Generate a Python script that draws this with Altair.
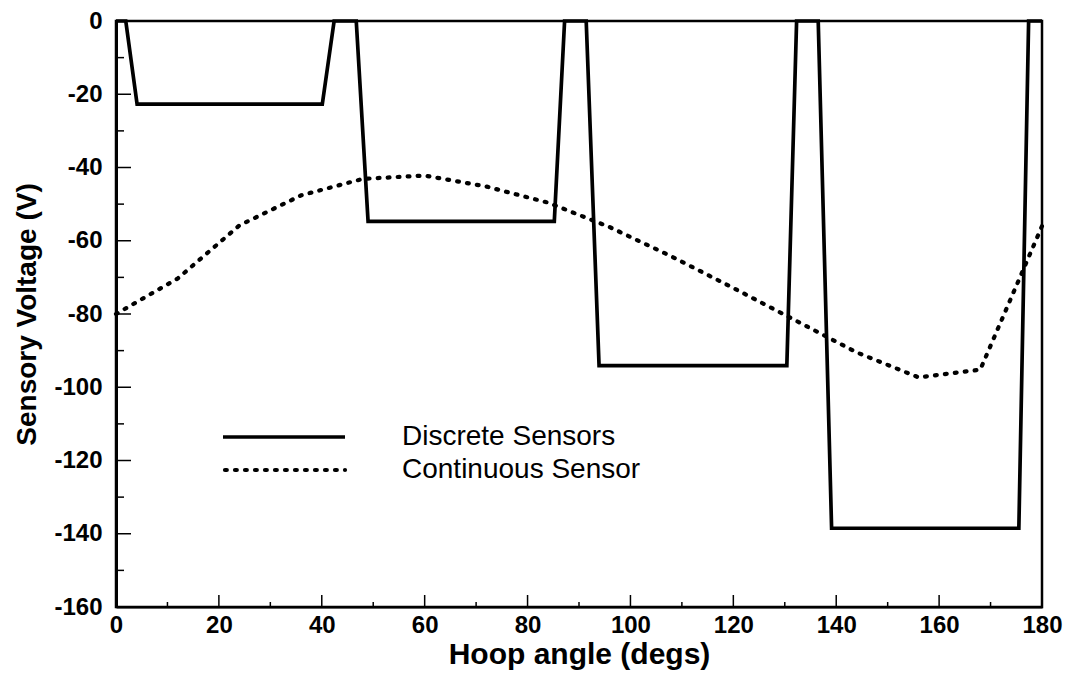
import altair as alt
import pandas as pd

# ---- data ----
discrete_angle = [0, 1.9, 4.1, 40.1, 42.4, 46.7, 49.0, 85.2, 87.2, 91.4, 93.9,
                  130.4, 132.3, 136.5, 139.1, 175.5, 177.4, 180]
discrete_volt = [0, 0, -22.7, -22.7, 0, 0, -54.7, -54.7, 0, 0, -94.1,
                 -94.1, 0, 0, -138.5, -138.5, 0, 0]

continuous_angle = [0, 12, 24, 36, 48, 60, 72, 84, 96, 108, 120, 132, 144, 156, 168, 180]
continuous_volt = [-80, -70.3, -55.8, -47.6, -43.1, -42.2, -45.2, -49.6, -56.3, -64.3,
                   -72.9, -81.7, -90.5, -97.3, -95.2, -56]

x_major = [0, 20, 40, 60, 80, 100, 120, 140, 160, 180]
x_minor = [10, 30, 50, 70, 90, 110, 130, 150, 170]
y_major = [-160, -140, -120, -100, -80, -60, -40, -20, 0]
y_minor = [-150, -130, -110, -90, -70, -50, -30, -10]

legend_labels = ["Discrete Sensors", "Continuous Sensor"]

FONT = "Liberation Sans, Arial, sans-serif"
W, H = 926, 586

xscale = alt.Scale(domain=[0, 180], nice=False, zero=False)
yscale = alt.Scale(domain=[-160, 0], nice=False, zero=False)

disc_df = pd.DataFrame({"angle": discrete_angle, "volt": discrete_volt,
                        "i": list(range(len(discrete_angle)))})
cont_df = pd.DataFrame({"angle": continuous_angle, "volt": continuous_volt,
                        "i": list(range(len(continuous_angle)))})

hyphen = "(datum.value < 0 ? '-' : '') + abs(datum.value)"

x_axis = alt.Axis(values=x_major, title="Hoop angle (degs)", ticks=False, grid=False,
                  labelFontSize=24, labelFont=FONT, labelFontWeight="bold",
                  labelColor="black", labelPadding=6,
                  titleFontSize=30, titleFont=FONT, titleFontWeight="bold",
                  titleColor="black", titlePadding=2,
                  domainColor="black", domainWidth=2, labelFlush=False)
y_axis = alt.Axis(values=y_major, title="Sensory Voltage  (V)", ticks=False, grid=False,
                  labelFontSize=24, labelFont=FONT, labelFontWeight="bold",
                  labelColor="black", labelPadding=14, labelExpr=hyphen,
                  titleFontSize=28, titleFont=FONT, titleFontWeight="bold",
                  titleColor="black", titlePadding=12,
                  domainColor="black", domainWidth=3, labelFlush=False)

X = lambda f: alt.X(f, scale=xscale, axis=x_axis)
Y = lambda f: alt.Y(f, scale=yscale, axis=y_axis)

discrete = alt.Chart(disc_df).mark_line(color="black", strokeWidth=3.7,
                                        strokeJoin="miter").encode(
    x=X("angle:Q"), y=Y("volt:Q"), order="i:Q")

continuous = alt.Chart(cont_df).mark_line(color="black", strokeWidth=4.2,
                                          strokeDash=[1.8, 8.2], strokeCap="round").encode(
    x=X("angle:Q"), y=Y("volt:Q"), order="i:Q")

# inward ticks
xmaj = alt.Chart(pd.DataFrame({"angle": x_major})).mark_rule(color="black", strokeWidth=1.5).encode(
    x=X("angle:Q"), y=alt.value(H), y2=alt.value(H - 12))
xmin = alt.Chart(pd.DataFrame({"angle": x_minor})).mark_rule(color="black", strokeWidth=1.5).encode(
    x=X("angle:Q"), y=alt.value(H), y2=alt.value(H - 5))
ymaj = alt.Chart(pd.DataFrame({"volt": y_major})).mark_rule(color="black", strokeWidth=1.5).encode(
    y=Y("volt:Q"), x=alt.value(0), x2=alt.value(15))
ymin = alt.Chart(pd.DataFrame({"volt": y_minor})).mark_rule(color="black", strokeWidth=1.5).encode(
    y=Y("volt:Q"), x=alt.value(0), x2=alt.value(8))

# legend (inside the plot, lower left)
LY1, LY2 = 416, 449
leg_solid = alt.Chart(pd.DataFrame({"label": [legend_labels[0]]})).mark_rule(
    color="black", strokeWidth=3.7).encode(
    x=alt.value(107), x2=alt.value(229), y=alt.value(LY1))
leg_dot = alt.Chart(pd.DataFrame({"label": [legend_labels[1]]})).mark_rule(
    color="black", strokeWidth=4.2, strokeDash=[1.8, 8.2], strokeCap="round").encode(
    x=alt.value(109), x2=alt.value(229), y=alt.value(LY2))
leg_t1 = alt.Chart(pd.DataFrame({"label": [legend_labels[0]]})).mark_text(
    align="left", baseline="middle", fontSize=28, font=FONT, color="black").encode(
    x=alt.value(286), y=alt.value(LY1), text="label:N")
leg_t2 = alt.Chart(pd.DataFrame({"label": [legend_labels[1]]})).mark_text(
    align="left", baseline="middle", fontSize=28, font=FONT, color="black").encode(
    x=alt.value(286), y=alt.value(LY2), text="label:N")

chart = alt.layer(
    discrete, continuous, xmaj, xmin, ymaj, ymin, leg_solid, leg_dot, leg_t1, leg_t2
).properties(
    width=W, height=H,
    background="white",
    autosize=alt.AutoSizeParams(type="none"),
    padding={"left": 108, "top": 13, "right": 23, "bottom": 67},
).configure_view(stroke="black", strokeWidth=2.5)

chart.save("out.html", embed_options={"renderer": "svg", "actions": False})
